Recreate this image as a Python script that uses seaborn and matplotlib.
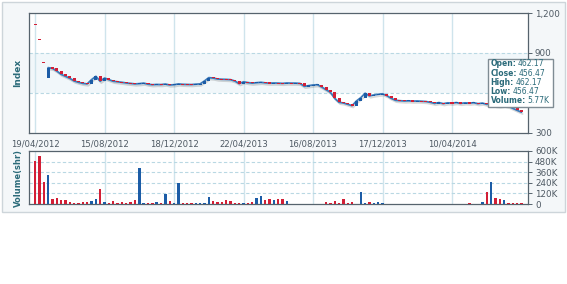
import numpy as np
import pandas as pd
import matplotlib
matplotlib.use("Agg")
import matplotlib.pyplot as plt
import seaborn as sns
from matplotlib.patches import Rectangle
import matplotlib.patheffects as pe
from matplotlib.ticker import FuncFormatter

# ---------------- data ----------------
tick_labels = ["19/04/2012", "15/08/2012", "18/12/2012", "22/04/2013",
               "16/08/2013", "17/12/2013", "10/04/2014"]
tick_index = [0, 16, 32, 48, 64, 80, 96]

closes = [1110, 1000, 826, 790, 785, 765, 740, 725, 710, 690,
          680, 672, 668, 700, 725, 688, 712, 700, 688, 684,
          680, 675, 672, 668, 670, 674, 666, 662, 664, 663,
          667, 660, 662, 668, 665, 664, 663, 666, 668, 690,
          715, 712, 705, 703, 702, 700, 690, 670, 684, 678,
          674, 677, 680, 676, 674, 675, 674, 672, 675, 674,
          674, 672, 650, 655, 660, 662, 645, 625, 605, 560,
          530, 525, 515, 505, 540, 565, 598, 578, 585, 590,
          594, 580, 560, 545, 542, 540, 541, 539, 540, 538,
          536, 530, 522, 528, 520, 526, 524, 528, 522, 526,
          524, 527, 520, 524, 515, 520, 506, 503, 508, 500,
          485, 470, 456]
first_opens = [1116, 1004, 832, 712]

volumes_k = [487, 548, 254, 328, 60, 72, 45, 40, 20, 15,
             12, 20, 25, 30, 60, 166, 20, 15, 30, 15,
             25, 12, 20, 40, 404, 12, 10, 12, 20, 10,
             110, 30, 15, 234, 10, 8, 8, 10, 8, 12,
             75, 30, 25, 25, 45, 38, 10, 10, 8, 10,
             20, 72, 95, 45, 60, 50, 55, 55, 38, 5,
             5, 5, 5, 5, 4, 5, 5, 20, 6, 35,
             8, 55, 6, 18, 5, 132, 6, 18, 6, 28,
             8, 4, 4, 4, 4, 4, 4, 4, 4, 4,
             4, 4, 4, 4, 4, 4, 4, 4, 4, 5,
             15, 5, 5, 25, 140, 254, 68, 60, 45, 15,
             10, 8, 6]

price_ticks = [300, 600, 900, 1200]
volume_ticks_k = [0, 120, 240, 360, 480, 600]

tooltip_labels = ["Open:", "Close:", "High:", "Low:", "Volume:"]
tooltip_values = ["462.17", "456.47", "462.17", "456.47", "5.77K"]

# ---------------- derived table ----------------
n = len(closes)
opens = first_opens + closes[len(first_opens) - 1:-1]
df = pd.DataFrame({"idx": np.arange(n), "close": closes, "open": opens,
                   "volume": np.array(volumes_k) * 1000})
df["up"] = df["close"] >= df["open"]
body = df["close"] - df["open"]
min_h = 8.0
df["bottom"] = np.where(body.abs() < min_h, (df["close"] + df["open"]) / 2 - min_h / 2,
                        df["open"])
df["height"] = np.where(body.abs() < min_h, min_h, body)

BLUE = "#1c5ca6"
RED = "#d21f36"
colors = np.where(df["up"], BLUE, RED)

# ---------------- figure ----------------
sns.set_style("white")
plt.rcParams["font.family"] = ["DejaVu Sans"]
W, H = 567, 284
fig = plt.figure(figsize=(W / 100, H / 100), dpi=100)
fig.patch.set_facecolor("white")

fig.add_artist(Rectangle((2 / W, 1 - 212 / H), 563 / W, 210 / H,
                         transform=fig.transFigure, facecolor="#f4f7f9",
                         edgecolor="#cdd5da", lw=1, zorder=-5))

def fx(px):
    return px / W

def fy(py):
    return 1 - py / H

ax = fig.add_axes([fx(29), fy(133), fx(528) - fx(29), fy(13) - fy(133)])
axv = fig.add_axes([fx(29), fy(204), fx(528) - fx(29), fy(151) - fy(204)], sharex=ax)

GRID_V = "#cfe4ec"
GRID_H = "#b9d8e3"
SPINE = "#56636d"
TXT = "#4e5963"
TEAL = "#2b6b7a"

xlim = (-1.4, 113.5)

for a in (ax, axv):
    a.set_facecolor("white")
    for tx in tick_index:
        a.axvline(tx, color=GRID_V, lw=1.0, zorder=0)
    for s in a.spines.values():
        s.set_color(SPINE)
        s.set_linewidth(0.9)
    a.yaxis.tick_right()
    a.tick_params(axis="y", which="both", right=True, left=False, length=3,
                  width=0.7, color=SPINE, labelsize=6.3, labelcolor=TXT, pad=2)

# price panel
ax.axhspan(600, 900, color="#f1f7fa", zorder=-1, lw=0)
for yv in (600, 900):
    ax.axhline(yv, color=GRID_H, lw=0.8, ls=(0, (3, 2)), zorder=0)

line_df = df.iloc[3:]
sns.lineplot(data=line_df, x="idx", y="close", ax=ax, color="#3d7ab9", lw=1.3,
             zorder=2, legend=False,
             path_effects=[pe.SimpleLineShadow(offset=(0.8, -1.3), alpha=0.15),
                           pe.Normal()])
ax.bar(df["idx"], df["height"], bottom=df["bottom"], width=0.7,
       color=colors, zorder=3, lw=0)
ax.set_ylim(300, 1200)
ax.set_yticks(price_ticks)
# the 600 label sits under the tooltip in the reference
ax.yaxis.set_major_formatter(FuncFormatter(lambda v, p: "" if v == 600 else f"{int(v):,}"))
ax.set_xlim(*xlim)
ax.set_xticks(tick_index)
ax.set_xticklabels(tick_labels)
ax.tick_params(axis="x", length=2, color=SPINE, labelsize=6.1, labelcolor=TXT, pad=2.5)
ax.set_xlabel("")
ax.set_ylabel("")

# volume panel
for yv in volume_ticks_k[1:-1]:
    axv.axhline(yv * 1000, color=GRID_H, lw=0.8, ls=(0, (3, 2)), zorder=0)
axv.bar(df["idx"], df["volume"], width=0.55, color=colors, zorder=3, lw=0)
axv.set_ylim(0, 600000)
axv.set_yticks([v * 1000 for v in volume_ticks_k])
axv.set_yticklabels([("0" if v == 0 else f"{v}K") for v in volume_ticks_k])
axv.tick_params(axis="x", length=0, labelbottom=False)
axv.set_xlim(*xlim)
axv.set_xlabel("")
axv.set_ylabel("")

# axis titles
fig.text(fx(18), fy(73), "Index", rotation=90, ha="center", va="center",
         fontsize=6.5, fontweight="bold", color=TEAL)
fig.text(fx(18), fy(178), "Volume(shr)", rotation=90, ha="center", va="center",
         fontsize=6.0, fontweight="bold", color=TEAL)

# tooltip
fig.add_artist(Rectangle((fx(488), fy(107)), 65 / W, 48 / H,
                         transform=fig.transFigure, facecolor="white",
                         edgecolor="#7f8c94", lw=1, zorder=20))
fig.canvas.draw()
r = fig.canvas.get_renderer()
line_y = [64, 73, 82.5, 91.5, 100.7]
for lab, val, py in zip(tooltip_labels, tooltip_values, line_y):
    t = fig.text(fx(490.5), fy(py), lab, fontsize=5.5, fontweight="bold",
                 color=TEAL, ha="left", va="center", zorder=21)
    bb = t.get_window_extent(r)
    fig.text((bb.x1 + 1.5) / W, fy(py), val, fontsize=5.5, color=TEAL,
             ha="left", va="center", zorder=21)

fig.savefig("out.png", dpi=100)
